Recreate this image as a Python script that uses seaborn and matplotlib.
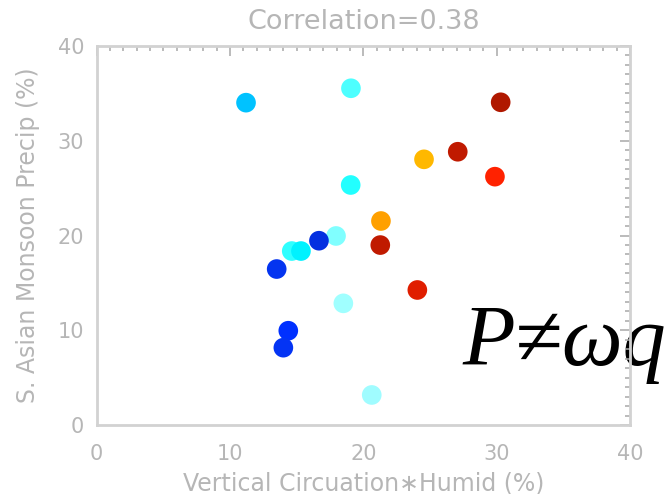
import matplotlib
matplotlib.use("Agg")
import matplotlib.pyplot as plt
from matplotlib.ticker import MultipleLocator
import seaborn as sns
import pandas as pd

# Percent changes per model: circulation*humidity term vs. monsoon precipitation
circ_humid = [11.2, 19.07, 30.3, 27.08, 24.55, 29.87, 19.05, 21.32, 21.27, 17.95,
              16.67, 14.63, 15.32, 13.5, 24.05, 18.5, 14.37, 14.0, 20.63]
precip = [34.02, 35.54, 34.06, 28.84, 28.04, 26.21, 25.33, 21.53, 18.99, 19.95,
          19.45, 18.36, 18.36, 16.46, 14.25, 12.84, 9.95, 8.16, 3.17]
point_colors = ["#00c2ff", "#4dffff", "#b01800", "#c01a00", "#ffb800", "#ff2200",
                "#22ffff", "#ffa000", "#c01a00", "#80ffff", "#0430e0", "#30ffff",
                "#00f2ff", "#0434f0", "#e01e00", "#a0ffff", "#0030ff", "#0434f4",
                "#a0fcff"]
x_ticks = [0, 10, 20, 30, 40]
y_ticks = [0, 10, 20, 30, 40]
title_text = "Correlation=0.38"
x_label = "Vertical Circuation\u2217Humid (%)"
y_label = "S. Asian Monsoon Precip (%)"
equation = "P\u2260\u03c9q"

df = pd.DataFrame({"x": circ_humid, "y": precip,
                   "member": [str(i) for i in range(len(precip))]})
palette = dict(zip(df["member"], point_colors))

sns.set_style("white")
plt.rcParams["font.family"] = ["DejaVu Sans"]

W, H = 671, 494
fig = plt.figure(figsize=(W / 100, H / 100), dpi=100)
ax = fig.add_axes([96.7 / W, 1 - 425 / H, (630 - 96.7) / W, (425 - 46) / H])
ax.set_facecolor("none")
ax.set_zorder(2)

sns.scatterplot(data=df, x="x", y="y", hue="member", palette=palette,
                legend=False, s=200, linewidth=0, ax=ax, zorder=4)

frame_gray = "#d2d2d2"
text_gray = "#b6b6b6"
tick_gray = "#a8a8a8"

ax.set_xlim(0, 40)
ax.set_ylim(0, 40)
ax.set_xticks(x_ticks)
ax.set_yticks(y_ticks)
ax.xaxis.set_minor_locator(MultipleLocator(1))
ax.yaxis.set_minor_locator(MultipleLocator(1))
ax.tick_params(which="both", direction="in", top=True, right=True,
               color=tick_gray, labelcolor=text_gray, labelsize=15)
ax.tick_params(which="major", length=7, width=1.1)
ax.tick_params(which="minor", length=3.5, width=1.1)
ax.tick_params(axis="x", which="major", pad=14)
ax.tick_params(axis="y", which="major", pad=9)
for sp in ax.spines.values():
    sp.set_color(frame_gray)
    sp.set_linewidth(2)
    sp.set_zorder(5)

ax.set_title(title_text, color=text_gray, fontsize=19.5, pad=12)
ax.set_xlabel(x_label, color=text_gray, fontsize=17, labelpad=5)
ax.set_ylabel(y_label, color=text_gray, fontsize=17, labelpad=13)

# the equation sits beneath the frame line where they overlap
fig.text(462 / W, 1 - 365 / H, equation,
         family="Liberation Serif", style="italic", fontsize=62, color="black",
         ha="left", va="baseline", zorder=0)

fig.savefig("out.png", dpi=100, facecolor="white")
